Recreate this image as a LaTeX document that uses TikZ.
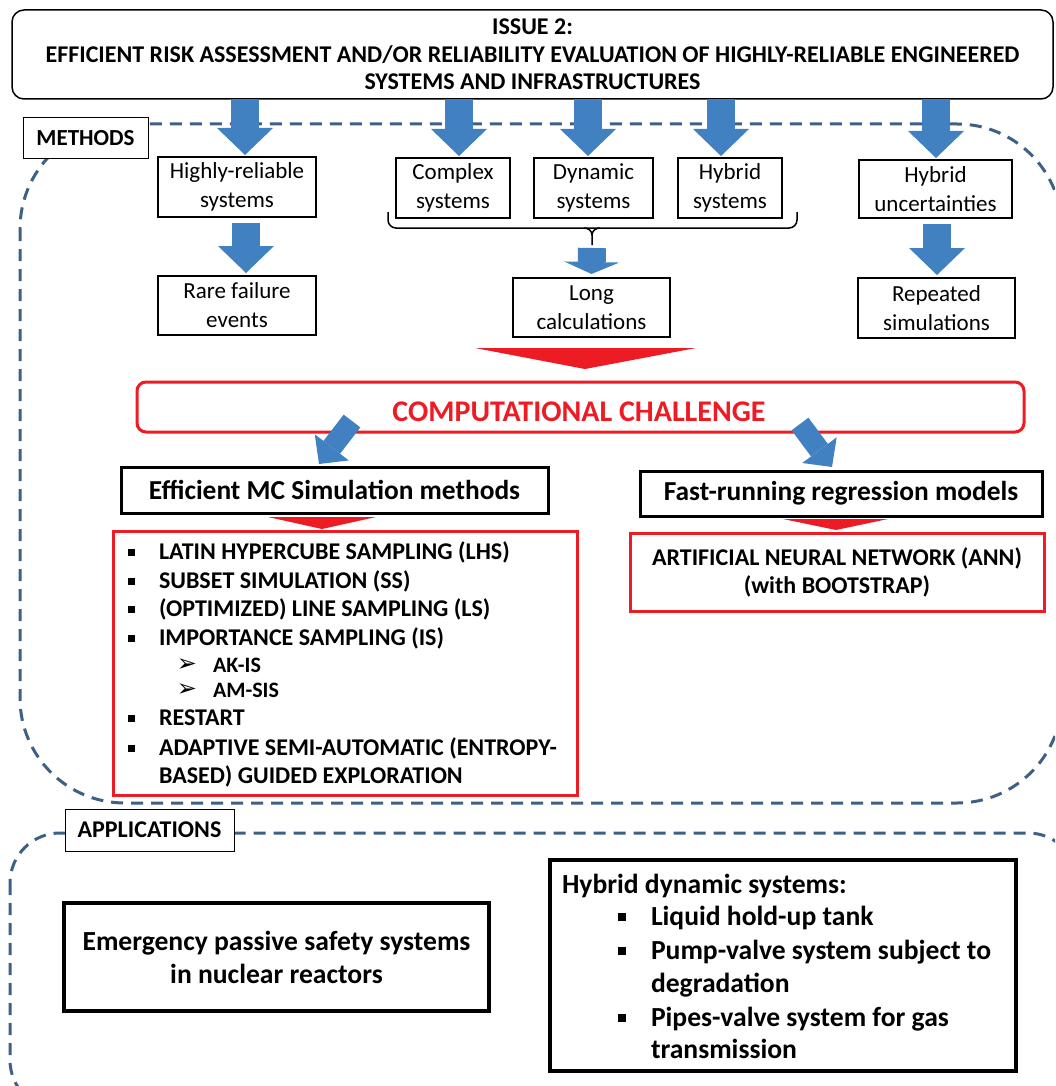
\documentclass[tikz,border=0pt]{standalone}
\usepackage{fontspec}
\setmainfont{Carlito}
\newfontfamily\dvs{DejaVu Sans}
\usetikzlibrary{arrows.meta}
\definecolor{ablue}{RGB}{65,128,193}
\definecolor{ared}{RGB}{237,28,36}
\definecolor{dblue}{RGB}{62,96,132}
\tikzset{
  every node/.style={inner sep=0pt, outer sep=0pt},
  sbox/.style={draw, line width=2pt, align=center, font=\fontsize{23}{29}\selectfont},
  tbox/.style={draw, line width=3pt, font=\fontsize{27.4}{32}\selectfont\bfseries},
  abox/.style={draw, line width=4pt},
  rbox/.style={draw=ared, line width=3pt},
  lblbox/.style={draw, line width=1pt, fill=white},
  dashreg/.style={draw=dblue, line width=3pt, dash pattern=on 12pt off 8pt},
  barrow/.style={draw=ablue, line width=28pt, -{Triangle[length=27pt,width=56pt,line width=0pt]}},
  sarrow/.style={draw=ablue, line width=28pt, -{Triangle[length=12pt,width=55pt,line width=0pt]}},
  darrow/.style={draw=ablue, line width=21pt, -{Triangle[length=21pt,width=43pt,line width=0pt]}},
  redtri/.style={fill=ared},
  lt/.style={anchor=west, text height=15.4pt, text depth=0pt, font=\fontsize{24}{28}\selectfont\bfseries},
  st/.style={anchor=west, text height=14.1pt, text depth=0pt, font=\fontsize{22}{26}\selectfont\bfseries},
  apptxt/.style={anchor=west, text height=17.8pt, text depth=0pt, font=\fontsize{27.6}{33}\selectfont\bfseries},
  bul/.style={fill=black, minimum size=7pt},
  abul/.style={fill=black, minimum size=8pt},
  sbul/.style={font=\fontsize{24}{26}\selectfont\dvs},
}
\begin{document}
\begin{tikzpicture}[x=1pt,y=-1pt]
\useasboundingbox (0,0) rectangle (1055,1086);
\clip (0,0) rectangle (1055,1086);

% dashed regions
\draw[dashreg, rounded corners=105pt] (20,124) rectangle (1062,803);
\draw[dashreg, rounded corners=50pt] (10,833) rectangle (1078,1110);

% header
\node[draw, line width=1.5pt, rounded corners=12pt, minimum width=1041pt, minimum height=89pt,
      align=center, font=\fontsize{24}{27.5}\selectfont\bfseries] (hdr) at (532.5,54.5)
  {ISSUE 2:\\EFFICIENT RISK ASSESSMENT AND/OR RELIABILITY EVALUATION OF HIGHLY-RELIABLE ENGINEERED\\SYSTEMS AND INFRASTRUCTURES};

% section labels
\node[lblbox, minimum width=125pt, minimum height=41pt, font=\fontsize{23}{25}\selectfont\bfseries] (meth) at (85.5,138.5) {METHODS};
\node[lblbox, minimum width=169pt, minimum height=42pt, font=\fontsize{24}{26}\selectfont\bfseries] (appl) at (149.5,830) {APPLICATIONS};

% first row boxes
\node[sbox, minimum width=158pt, minimum height=60pt] (hr) at (237,187) {Highly-reliable\\systems};
\node[sbox, minimum width=114pt, minimum height=60pt] (cs) at (453,188) {Complex\\systems};
\node[sbox, minimum width=119pt, minimum height=60pt] (ds) at (593.5,188) {Dynamic\\systems};
\node[sbox, minimum width=104pt, minimum height=60pt] (hs) at (730,188) {Hybrid\\systems};
\node[sbox, minimum width=153pt, minimum height=58pt] (hu) at (935.5,189) {Hybrid\\uncertainties};

% second row boxes
\node[sbox, minimum width=158pt, minimum height=59pt] (rf) at (237,305.5) {Rare failure\\events};
\node[sbox, minimum width=157pt, minimum height=59pt] (lc) at (591.5,307.5) {Long\\calculations};
\node[sbox, minimum width=157pt, minimum height=60pt] (rs) at (936.5,308) {Repeated\\simulations};

% top arrows
\draw[barrow] ([xshift=8pt]hr.north |- hdr.south) -- ([xshift=8pt,yshift=2pt]hr.north);
\draw[barrow] ([xshift=6pt]cs.north |- hdr.south) -- ([xshift=6pt,yshift=2pt]cs.north);
\draw[barrow] ([xshift=-5.5pt]ds.north |- hdr.south) -- ([xshift=-5.5pt,yshift=2pt]ds.north);
\draw[barrow] ([xshift=-9pt]hs.north |- hdr.south) -- ([xshift=-9pt,yshift=2pt]hs.north);
\draw[barrow] ([xshift=0.5pt]hu.north |- hdr.south) -- ([xshift=0.5pt,yshift=2pt]hu.north);

% second-level arrows
\draw[barrow] ([xshift=9pt,yshift=-6pt]hr.south) -- ([xshift=9pt,yshift=3pt]rf.north);
\draw[barrow] ([xshift=1.5pt,yshift=-6pt]hu.south) -- ([xshift=0.5pt,yshift=3pt]rs.north);

% brace
\coordinate (bt) at (592,245);
\draw[line width=1.5pt, rounded corners=8pt] (388,212) |- (592,228) -| (797,212);
\draw[line width=1.5pt] (584,228) to[out=0,in=90] (592,235) -- (bt);
\draw[line width=1.5pt] (600,228) to[out=180,in=90] (592,235);
\draw[sarrow] ([yshift=-3pt]bt) -- ([yshift=4pt]lc.north);

% computational challenge
\node[rbox, rounded corners=9pt, minimum width=887pt, minimum height=50pt] (cc) at (580.5,407) {};
\node[text=ared, font=\fontsize{30}{34}\selectfont\bfseries] (cct) at (579,412) {COMPUTATIONAL CHALLENGE};
\fill[redtri] (475,348) -- (696,348) -- (585,369) -- cycle;

% method boxes
\node[tbox, minimum width=427pt, minimum height=46pt] (mc) at (334.5,490) {Efficient MC Simulation methods};
\node[tbox, minimum width=402pt, minimum height=45pt] (fr) at (841,493.5) {Fast-running regression models};

\coordinate (d1s) at (352,421);
\coordinate (d1e) at (319,464);
\coordinate (d2s) at (800,424);
\coordinate (d2e) at (832,467);
\draw[darrow] (d1s) -- (d1e);
\draw[darrow] (d2s) -- (d2e);

\fill[redtri] (268,517) -- (376,517) -- (322,529) -- cycle;
\fill[redtri] (783,519) -- (888,519) -- (836,530) -- cycle;

% left red list
\node[rbox, minimum width=464pt, minimum height=264pt] (ml) at (345,663) {};
\node[bul] (b1) at (131,552) {};
\node[lt] (l1) at (159,552) {LATIN HYPERCUBE SAMPLING (LHS)};
\node[bul] (b2) at (131,581) {};
\node[lt] (l2) at (159,581) {SUBSET SIMULATION (SS)};
\node[bul] (b3) at (131,609) {};
\node[lt] (l3) at (159,609) {(OPTIMIZED) LINE SAMPLING (LS)};
\node[bul] (b4) at (131,638) {};
\node[lt] (l4) at (159,638) {IMPORTANCE SAMPLING (IS)};
\node[sbul] (s5) at (187,665) {➢};
\node[st] (l5) at (213,665) {AK-IS};
\node[sbul] (s6) at (187,690) {➢};
\node[st] (l6) at (213,690) {AM-SIS};
\node[bul] (b7) at (131,718) {};
\node[lt] (l7) at (159,718) {RESTART};
\node[bul] (b8) at (131,748) {};
\node[lt] (l8) at (159,748) {ADAPTIVE SEMI-AUTOMATIC (ENTROPY-};
\node[lt] (l9) at (159,776) {BASED) GUIDED EXPLORATION};

% right red box
\node[rbox, minimum width=414pt, minimum height=78pt, align=center,
      font=\fontsize{24}{28}\selectfont\bfseries] (ann) at (837,572)
  {ARTIFICIAL NEURAL NETWORK (ANN)\\(with BOOTSTRAP)};

% applications
\node[abox, minimum width=425pt, minimum height=108pt, align=center,
      font=\fontsize{27.6}{33}\selectfont\bfseries] (em) at (276.5,957)
  {Emergency passive safety systems\\in nuclear reactors};
\node[abox, minimum width=466pt, minimum height=211pt] (hd) at (783,965.5) {};
\node[apptxt] (h0) at (562,885) {Hybrid dynamic systems:};
\node[abul] (hb1) at (622,917) {};
\node[apptxt] (h1) at (651,917) {Liquid hold-up tank};
\node[abul] (hb2) at (622,951) {};
\node[apptxt] (h2) at (651,951) {Pump-valve system subject to};
\node[apptxt] (h3) at (651,984) {degradation};
\node[abul] (hb3) at (622,1018) {};
\node[apptxt] (h4) at (651,1018) {Pipes-valve system for gas};
\node[apptxt] (h5) at (651,1050) {transmission};
\end{tikzpicture}
\end{document}
